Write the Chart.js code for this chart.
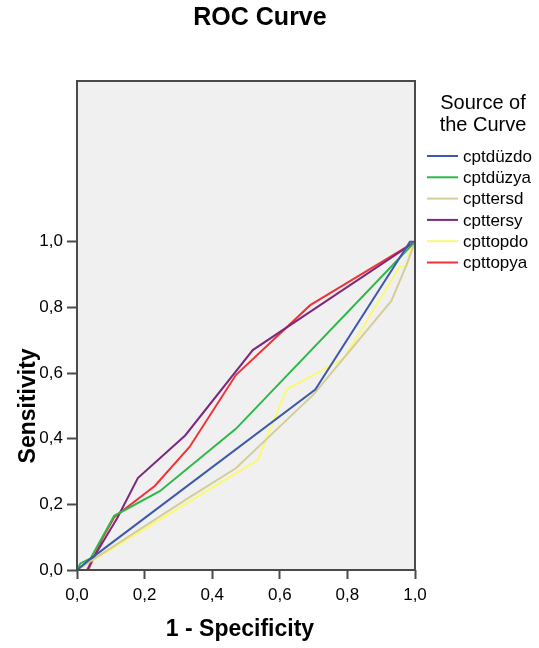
<!DOCTYPE html>
<html>
<head>
<meta charset="utf-8">
<script src="https://cdn.jsdelivr.net/npm/chart.js@4"></script>
<style>
	html, body { margin: 0; padding: 0; background: #fff; }
	#wrap { width: 539px; height: 648px; }
</style>
</head>
<body>
<div id="wrap"><canvas id="rocChart"></canvas></div>
<script>
// series names (legend order)
var seriesNames = ["cptdüzdo", "cptdüzya", "cpttersd", "cpttersy", "cpttopdo", "cpttopya"];
var seriesColors = ["#3E58AC", "#2EB848", "#D3CE97", "#7C287D", "#FBF873", "#EF3338"];

// 1 - specificity / sensitivity pairs
var dzdoX = [0, 0.035, 0.705, 0.985, 1];
var dzdoY = [0, 0.03, 0.55, 1.0, 1.0];
var dzyaX = [0, 0.01, 0.04, 0.11, 0.245, 0.47, 1];
var dzyaY = [0, 0.02, 0.035, 0.165, 0.24, 0.43, 1];
var tersdX = [0, 0.33, 0.47, 0.70, 0.93, 0.975, 1];
var tersdY = [0, 0.22, 0.31, 0.535, 0.82, 0.93, 1];
var tersyX = [0, 0.03, 0.05, 0.12, 0.18, 0.32, 0.52, 1];
var tersyY = [0, 0, 0.04, 0.16, 0.28, 0.41, 0.67, 1];
var topdoX = [0, 0.535, 0.62, 0.79, 0.955, 0.975, 0.99, 1];
var topdoY = [0, 0.335, 0.55, 0.645, 0.925, 0.925, 0.99, 1];
var topyaX = [0, 0.033, 0.077, 0.111, 0.23, 0.333, 0.47, 0.69, 1];
var topyaY = [0, 0, 0.10, 0.162, 0.256, 0.375, 0.594, 0.807, 1];

var xTicks = [0, 0.2, 0.4, 0.6, 0.8, 1.0];
var yTicks = [0, 0.2, 0.4, 0.6, 0.8, 1.0];

var allX = [dzdoX, dzyaX, tersdX, tersyX, topdoX, topyaX];
var allY = [dzdoY, dzyaY, tersdY, tersyY, topdoY, topyaY];

function pairs(xs, ys){
	var out = [];
	for (var i = 0; i < xs.length; i++) {
		out.push({x: xs[i], y: ys[i]});
	}
	return out;
}

var datasets = [];
for (var i = 0; i < seriesNames.length; i++) {
	datasets.push({
		label: seriesNames[i],
		data: pairs(allX[i], allY[i]),
		borderColor: seriesColors[i],
		backgroundColor: seriesColors[i],
		borderWidth: 2,
		pointRadius: 0,
		tension: 0,
		fill: false
	});
}

function fmt(v){
	return v.toFixed(1).replace(".", ",");
}

var FONT = "'Liberation Sans', Arial, sans-serif";

var frameAndText = {
	id: 'frameAndText',
	beforeDatasetsDraw: function(chart){
		var a = chart.chartArea, c = chart.ctx;
		c.save();
		c.fillStyle = "#F0F0F0";
		c.fillRect(a.left, a.top, a.right - a.left, a.bottom - a.top);
		c.restore();
	},
	afterDraw: function(chart){
		var a = chart.chartArea, c = chart.ctx;
		var ys = chart.scales.y;
		c.save();
		c.strokeStyle = "#4a4a4a";
		c.lineWidth = 2;
		c.strokeRect(a.left, a.top, a.right - a.left, a.bottom - a.top);

		c.fillStyle = "#000";
		c.textAlign = "center";
		c.textBaseline = "middle";
		c.font = "bold 25px " + FONT;
		c.fillText("ROC Curve", 260, 18);

		c.font = "bold 23px " + FONT;
		c.fillText("1 - Specificity", 240, 630);

		c.translate(29, (ys.getPixelForValue(0) + ys.getPixelForValue(1)) / 2);
		c.rotate(-Math.PI / 2);
		c.fillText("Sensitivity", 0, 0);
		c.restore();

		// legend
		c.save();
		c.fillStyle = "#000";
		c.textAlign = "center";
		c.textBaseline = "middle";
		c.font = "20px " + FONT;
		c.fillText("Source of", 483, 103);
		c.fillText("the Curve", 483, 125);
		c.textAlign = "left";
		c.font = "17px " + FONT;
		for (var i = 0; i < seriesNames.length; i++) {
			var yy = 156 + i * 21.3;
			c.strokeStyle = seriesColors[i];
			c.lineWidth = 2;
			c.beginPath();
			c.moveTo(427, yy);
			c.lineTo(458, yy);
			c.stroke();
			c.fillText(seriesNames[i], 463, yy + 1);
		}
		c.restore();
	}
};

new Chart(document.getElementById('rocChart'), {
	type: 'line',
	data: { datasets: datasets },
	options: {
		responsive: true,
		maintainAspectRatio: false,
		animation: false,
		layout: { padding: { top: 81, right: 124, left: 0, bottom: 0 } },
		plugins: {
			legend: { display: false },
			title: { display: false },
			tooltip: { enabled: false }
		},
		scales: {
			x: {
				type: 'linear',
				min: 0,
				max: 1,
				afterFit: function(s){ s.height = 78; },
				afterBuildTicks: function(s){ s.ticks = xTicks.map(function(v){ return {value: v}; }); },
				border: { display: false },
				grid: { drawOnChartArea: false, drawTicks: true, tickLength: 9, tickWidth: 2, tickColor: "#4a4a4a" },
				ticks: {
					color: "#000",
					padding: 6,
					maxRotation: 0,
					font: { family: FONT, size: 17 },
					callback: function(v){ return fmt(v); }
				}
			},
			y: {
				type: 'linear',
				min: 0,
				max: 1.49,
				afterFit: function(s){ s.width = 77; },
				afterBuildTicks: function(s){ s.ticks = yTicks.map(function(v){ return {value: v}; }); },
				border: { display: false },
				grid: { drawOnChartArea: false, drawTicks: true, tickLength: 10, tickWidth: 2, tickColor: "#4a4a4a" },
				ticks: {
					color: "#000",
					padding: 4,
					font: { family: FONT, size: 17 },
					callback: function(v){ return fmt(v); }
				}
			}
		}
	},
	plugins: [frameAndText]
});
</script>
</body>
</html>
